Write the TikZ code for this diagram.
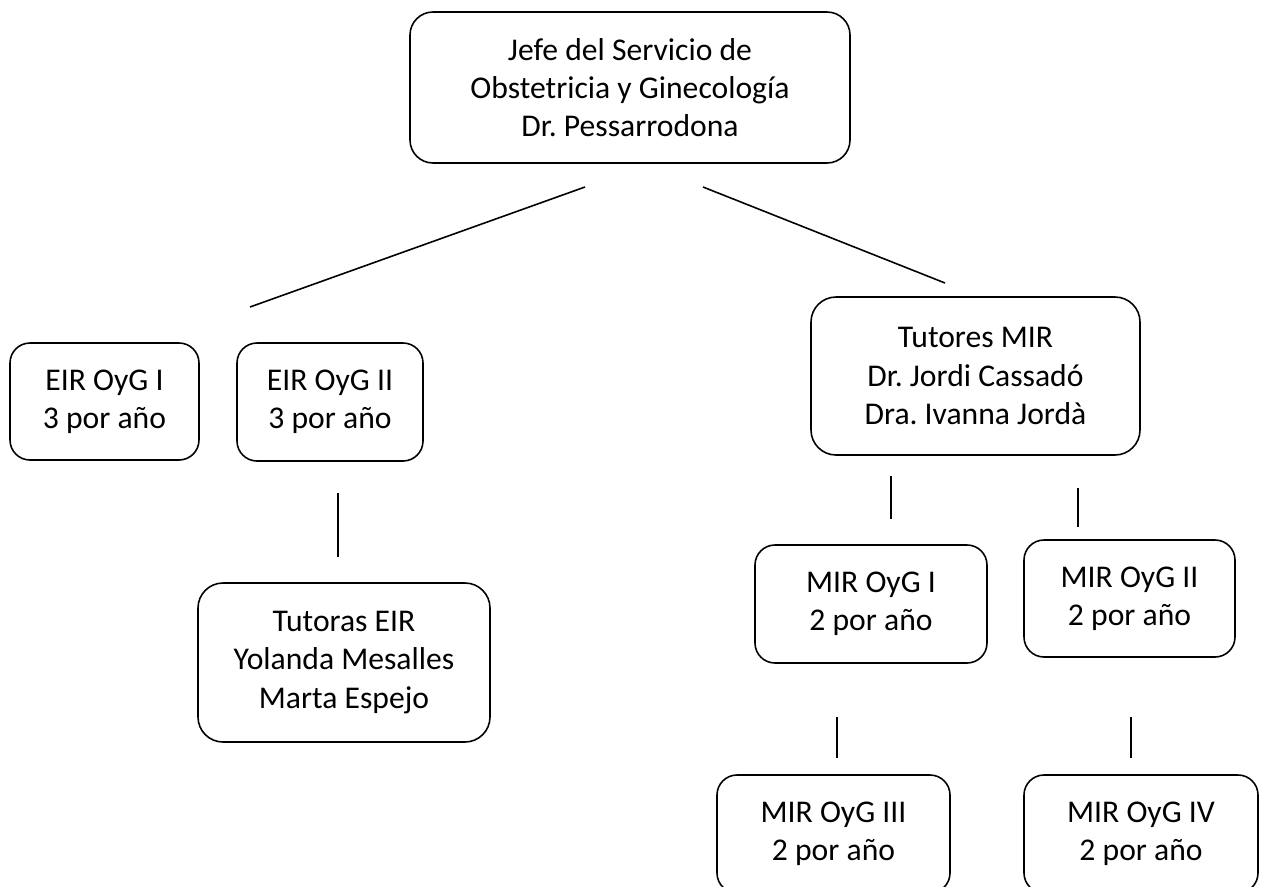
\documentclass[tikz,border=0pt]{standalone}
\usepackage{fontspec}
\setmainfont{Carlito}
\usepackage{tikz}
\usetikzlibrary{positioning,calc}
\frenchspacing

\begin{document}
\begin{tikzpicture}[
    box/.style={draw, line width=0.9pt, rounded corners=0.4cm, align=center, inner sep=0pt,
        font=\fontsize{18}{21.8}\selectfont},
    link/.style={line width=0.9pt}
]
    \useasboundingbox (0,0) rectangle (25.26,-17.72);

    % Jefe del servicio
    \node[box, rounded corners=0.46cm, minimum width=8.8cm, minimum height=3.02cm] (jefe) at (12.6,-1.75)
        {Jefe del Servicio de\\Obstetricia y Ginecología\\Dr. Pessarrodona};

    % EIR branch
    \node[box, minimum width=3.78cm, minimum height=2.34cm] (eir1) at (2.09,-8.03) {EIR OyG I\\3 por año};
    \node[box, minimum width=3.72cm, minimum height=2.36cm] (eir2) at (6.6,-8.04) {EIR OyG II\\3 por año};
    \node[box, rounded corners=0.5cm, minimum width=5.84cm, minimum height=3.18cm] (tuteir) at (6.88,-13.25)
        {Tutoras EIR\\Yolanda Mesalles\\Marta Espejo};

    % MIR branch
    \node[box, rounded corners=0.5cm, minimum width=6.58cm, minimum height=3.16cm] (tutmir) at (19.51,-7.52)
        {Tutores MIR\\Dr. Jordi Cassadó\\Dra. Ivanna Jordà};
    \node[box, minimum width=4.64cm, minimum height=2.36cm] (mir1) at (17.42,-12.08) {MIR OyG I\\2 por año};
    \node[box, minimum width=4.22cm, minimum height=2.34cm] (mir2) at (22.59,-11.97) {MIR OyG II\\2 por año};
    \node[box, minimum width=4.66cm, minimum height=2.36cm] (mir3) at (16.67,-16.68) {MIR OyG III\\2 por año};
    \node[box, minimum width=4.68cm, minimum height=2.36cm] (mir4) at (22.82,-16.68) {MIR OyG IV\\2 por año};

    % loose connector ends
    \coordinate (jl) at (11.7,-3.74);
    \coordinate (el) at (5.0,-6.14);
    \coordinate (jr) at (14.06,-3.74);
    \coordinate (mr) at (18.9,-5.66);
    \coordinate (e2a) at (6.76,-9.86);
    \coordinate (e2b) at (6.76,-11.14);
    \coordinate (m1a) at (17.82,-9.52);
    \coordinate (m1b) at (17.82,-10.38);
    \coordinate (m2a) at (21.56,-9.76);
    \coordinate (m2b) at (21.56,-10.54);
    \coordinate (m3a) at (16.74,-14.34);
    \coordinate (m3b) at (16.74,-15.16);
    \coordinate (m4a) at (22.62,-14.34);
    \coordinate (m4b) at (22.62,-15.16);

    \draw[link] (jl) -- (el);
    \draw[link] (jr) -- (mr);
    \draw[link] (e2a) -- (e2b);
    \draw[link] (m1a) -- (m1b);
    \draw[link] (m2a) -- (m2b);
    \draw[link] (m3a) -- (m3b);
    \draw[link] (m4a) -- (m4b);

\end{tikzpicture}
\end{document}
